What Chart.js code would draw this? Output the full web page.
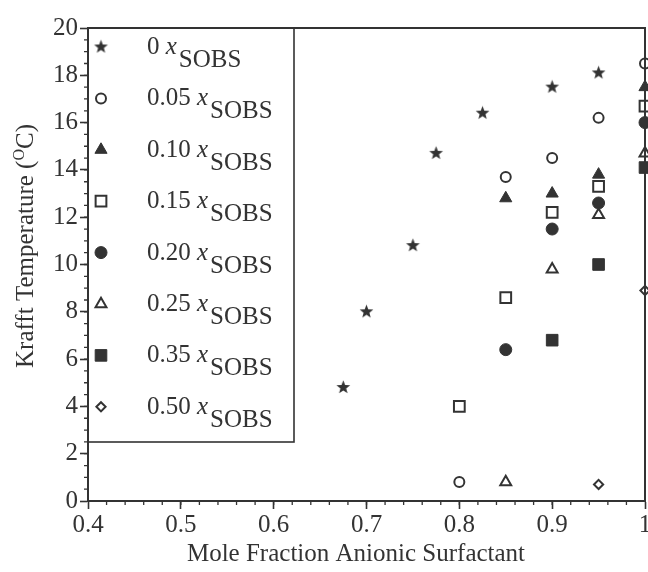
<!DOCTYPE html>
<html>
<head>
<meta charset="utf-8">
<script src="https://cdn.jsdelivr.net/npm/chart.js@4/dist/chart.umd.min.js"></script>
<style>
  html, body { margin: 0; padding: 0; background: #fff; }
  canvas { display: block; }
</style>
</head>
<body>
<canvas id="chart" width="648" height="572"></canvas>
<script>
// Krafft temperature vs mole fraction of anionic surfactant, per SOBS fraction
const sobsLabels = ['0', '0.05', '0.10', '0.15', '0.20', '0.25', '0.35', '0.50'];

const x00 = [0.675, 0.70, 0.75, 0.775, 0.825, 0.90, 0.95];
const y00 = [4.8, 8.0, 10.8, 14.7, 16.4, 17.5, 18.1];
const x05 = [0.80, 0.85, 0.90, 0.95, 1.0];
const y05 = [0.8, 13.7, 14.5, 16.2, 18.5];
const x10 = [0.85, 0.90, 0.95, 1.0];
const y10 = [12.8, 13.0, 13.8, 17.5];
const x15 = [0.80, 0.85, 0.90, 0.95, 1.0];
const y15 = [4.0, 8.6, 12.2, 13.3, 16.7];
const x20 = [0.85, 0.90, 0.95, 1.0];
const y20 = [6.4, 11.5, 12.6, 16.0];
const x25 = [0.85, 0.90, 0.95, 1.0];
const y25 = [0.8, 9.8, 12.1, 14.7];
const x35 = [0.90, 0.95, 1.0];
const y35 = [6.8, 10.0, 14.1];
const x50 = [0.95, 1.0];
const y50 = [0.7, 8.9];

const xTicks = [0.4, 0.5, 0.6, 0.7, 0.8, 0.9, 1.0];
const yTicks = [0, 2, 4, 6, 8, 10, 12, 14, 16, 18, 20];

const INK = '#333333';
const FONT = '"Liberation Serif", "DejaVu Serif", serif';

function pairs(xs, ys) {
    return xs.map((x, i) => ({ x: x, y: ys[i] }));
}

// filled five-pointed star used as a point style
function makeStar(r) {
    const size = Math.ceil(r * 2 + 2);
    const c = document.createElement('canvas');
    c.width = size; c.height = size;
    const g = c.getContext('2d');
    g.fillStyle = INK;
    g.beginPath();
    for (let i = 0; i < 10; i++) {
        const rad = (i % 2 === 0) ? r : r * 0.42;
        const a = -Math.PI / 2 + i * Math.PI / 5;
        const px = size / 2 + Math.cos(a) * rad;
        const py = size / 2 + Math.sin(a) * rad;
        if (i === 0) g.moveTo(px, py); else g.lineTo(px, py);
    }
    g.closePath();
    g.fill();
    return c;
}
const star = makeStar(7.2);

// marker look per series
const marks = [
    { style: star, r: 7, fill: INK, bw: 0 },
    { style: 'circle', r: 5, fill: '#fff', bw: 2 },
    { style: 'triangle', r: 7, fill: INK, bw: 1 },
    { style: 'rect', r: 7.6, fill: '#fff', bw: 2 },
    { style: 'circle', r: 6, fill: INK, bw: 1 },
    { style: 'triangle', r: 6.3, fill: '#fff', bw: 2 },
    { style: 'rect', r: 8.2, fill: INK, bw: 1 },
    { style: 'rectRot', r: 4.6, fill: '#fff', bw: 2 }
];

const allData = [
    pairs(x00, y00), pairs(x05, y05), pairs(x10, y10), pairs(x15, y15),
    pairs(x20, y20), pairs(x25, y25), pairs(x35, y35), pairs(x50, y50)
];

const datasets = allData.map((d, i) => ({
    label: sobsLabels[i] + ' xSOBS',
    data: d,
    showLine: false,
    pointStyle: marks[i].style,
    pointRadius: marks[i].r,
    pointBackgroundColor: marks[i].fill,
    pointBorderColor: INK,
    pointBorderWidth: marks[i].bw,
    clip: false
}));

function drawMarker(ctx, m, x, y) {
    ctx.save();
    ctx.fillStyle = m.fill;
    ctx.strokeStyle = INK;
    ctx.lineWidth = m.bw;
    Chart.helpers.drawPoint(ctx, { pointStyle: m.style, radius: m.r, rotation: 0, borderWidth: m.bw }, x, y);
    ctx.restore();
}

// frame, minor ticks, legend box and axis titles
const decorations = {
    id: 'decorations',
    afterDatasetsDraw(chart) {
        const ctx = chart.ctx;
        const a = chart.chartArea;
        const xs = chart.scales.x, ys = chart.scales.y;
        ctx.save();
        ctx.strokeStyle = INK;
        ctx.lineWidth = 2;
        ctx.beginPath();
        ctx.moveTo(a.left, a.top);
        ctx.lineTo(a.right, a.top);
        ctx.lineTo(a.right, a.bottom);
        ctx.stroke();

        // minor ticks
        ctx.lineWidth = 1.3;
        ctx.beginPath();
        for (let v = 0.42; v < 1.0; v += 0.02) {
            const px = xs.getPixelForValue(v);
            ctx.moveTo(px, a.bottom);
            ctx.lineTo(px, a.bottom + 4);
        }
        for (let v = 0.5; v < 20; v += 0.5) {
            const py = ys.getPixelForValue(v);
            ctx.moveTo(a.left, py);
            ctx.lineTo(a.left - 4, py);
        }
        ctx.stroke();

        // legend box
        const boxR = 294, boxB = 442;
        ctx.fillStyle = '#fff';
        ctx.fillRect(a.left + 1, a.top + 1, boxR - a.left - 1, boxB - a.top - 1);
        ctx.lineWidth = 1.6;
        ctx.strokeRect(a.left, a.top, boxR - a.left, boxB - a.top);

        ctx.textBaseline = 'alphabetic';
        ctx.textAlign = 'left';
        for (let i = 0; i < sobsLabels.length; i++) {
            const ry = 47 + i * 51.4;
            drawMarker(ctx, marks[i], 101, ry);
            ctx.fillStyle = INK;
            ctx.font = '25px ' + FONT;
            const num = sobsLabels[i] + ' ';
            let tx = 147;
            ctx.fillText(num, tx, ry + 7);
            tx += ctx.measureText(num).width;
            ctx.font = 'italic 25px ' + FONT;
            ctx.fillText('x', tx, ry + 7);
            tx += ctx.measureText('x').width + 2;
            ctx.font = '25px ' + FONT;
            ctx.fillText('SOBS', tx, ry + 20);
        }

        // x axis title
        ctx.font = '25px ' + FONT;
        ctx.textAlign = 'center';
        ctx.fillText('Mole Fraction Anionic Surfactant', 356, 561);

        // y axis title with superscript
        ctx.save();
        ctx.translate(33, 246);
        ctx.rotate(-Math.PI / 2);
        ctx.textAlign = 'left';
        const p1 = 'Krafft Temperature (', sup = 'O', p2 = 'C)';
        ctx.font = '25px ' + FONT;
        const w1 = ctx.measureText(p1).width, w3 = ctx.measureText(p2).width;
        ctx.font = '16px ' + FONT;
        const w2 = ctx.measureText(sup).width;
        let sx = -(w1 + w2 + w3) / 2;
        ctx.font = '25px ' + FONT;
        ctx.fillText(p1, sx, 0);
        sx += w1;
        ctx.font = '16px ' + FONT;
        ctx.fillText(sup, sx, -9);
        sx += w2;
        ctx.font = '25px ' + FONT;
        ctx.fillText(p2, sx, 0);
        ctx.restore();
        ctx.restore();
    }
};

new Chart(document.getElementById('chart'), {
    type: 'scatter',
    data: { datasets: datasets },
    options: {
        responsive: false,
        animation: false,
        events: [],
        layout: { autoPadding: false, padding: { top: 28, right: 3, left: 0, bottom: 0 } },
        plugins: {
            legend: { display: false },
            tooltip: { enabled: false },
            title: { display: false }
        },
        scales: {
            x: {
                type: 'linear',
                min: 0.4,
                max: 1.0,
                afterBuildTicks: (s) => { s.ticks = xTicks.map(v => ({ value: v })); },
                afterFit: (s) => { s.height = 71; s.paddingLeft = 0; s.paddingRight = 0; },
                ticks: {
                    color: INK,
                    font: { family: FONT, size: 25 },
                    padding: 1,
                    maxRotation: 0,
                    callback: (v) => String(Number(v.toFixed(1)))
                },
                grid: { drawOnChartArea: false, drawTicks: true, tickLength: 8, tickColor: INK, tickWidth: 1.6 },
                border: { display: true, color: INK, width: 2 }
            },
            y: {
                type: 'linear',
                min: 0,
                max: 20,
                afterBuildTicks: (s) => { s.ticks = yTicks.map(v => ({ value: v })); },
                afterFit: (s) => { s.width = 88; s.paddingTop = 0; s.paddingBottom = 0; },
                ticks: {
                    color: INK,
                    font: { family: FONT, size: 25 },
                    padding: 2
                },
                grid: { drawOnChartArea: false, drawTicks: true, tickLength: 8, tickColor: INK, tickWidth: 1.6 },
                border: { display: true, color: INK, width: 2 }
            }
        }
    },
    plugins: [decorations]
});
</script>
</body>
</html>
